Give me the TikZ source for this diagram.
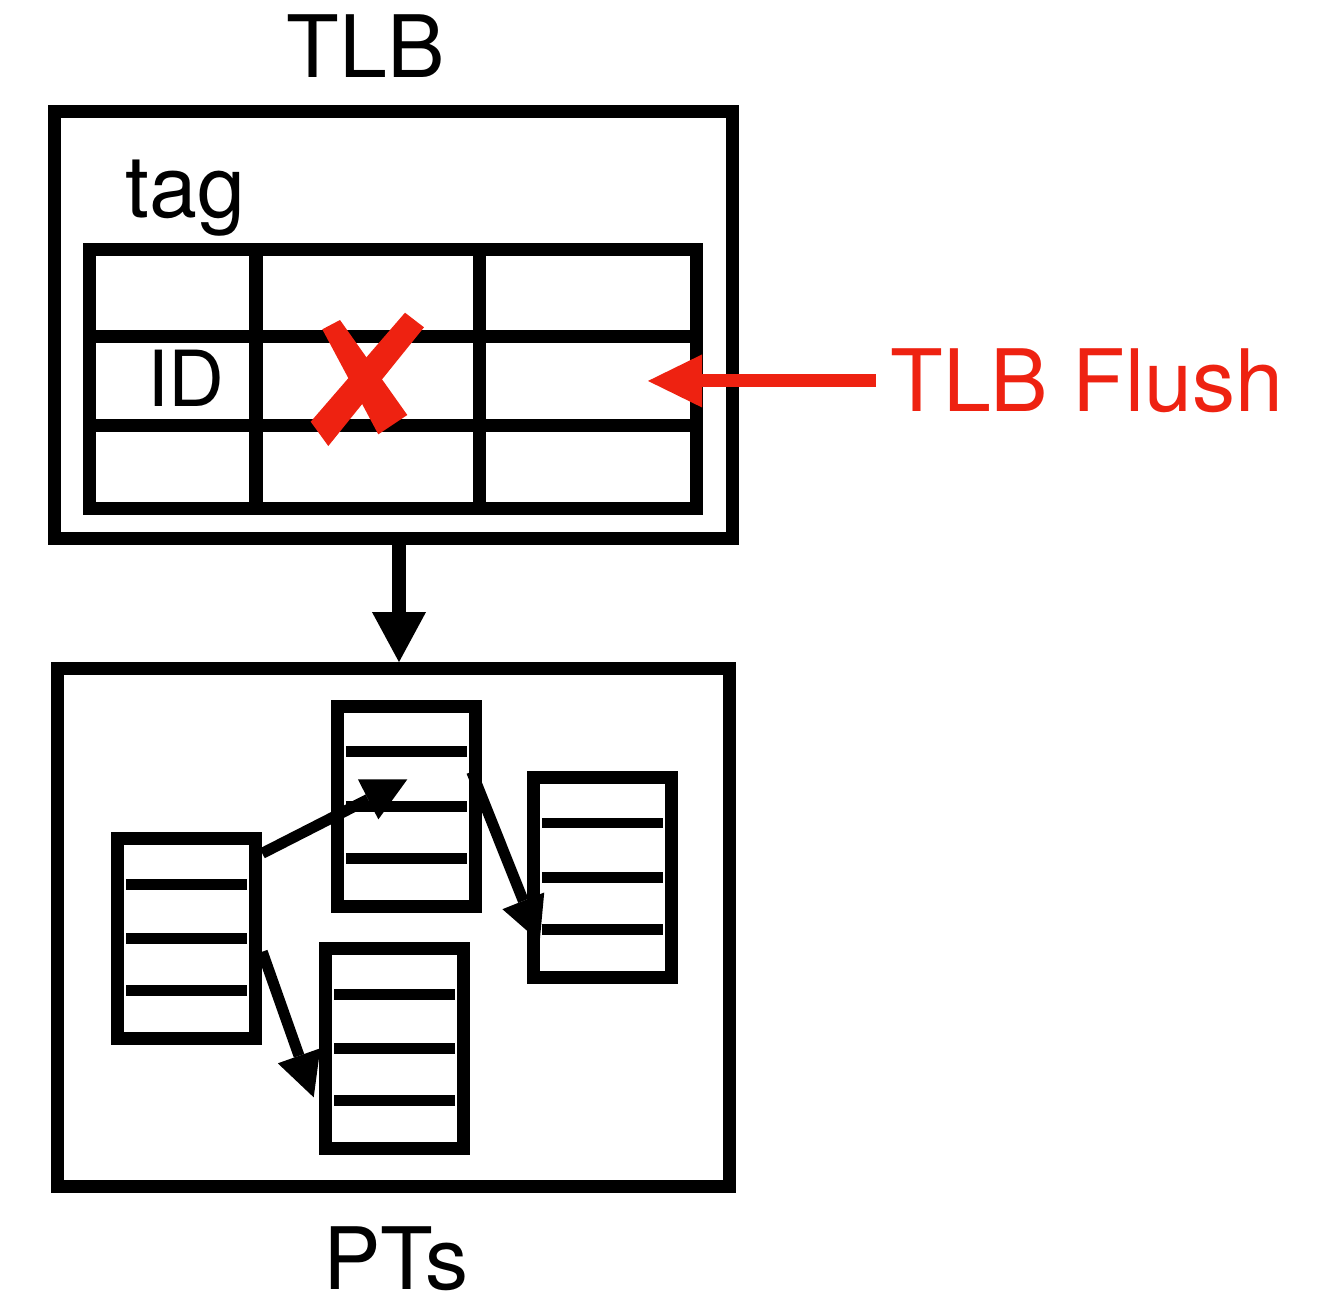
\documentclass[tikz,border=0pt]{standalone}
\usepackage{fontspec}
\setmainfont{TeX Gyre Heros}
\usepackage{tikz}
\usetikzlibrary{arrows.meta,positioning,calc}
\definecolor{flushred}{HTML}{EE2211}

\begin{document}
\begin{tikzpicture}[x=0.01cm, y=-0.01cm,
    box/.style={draw, line width=0.13cm, inner sep=0pt},
    ptpage/.style={box, minimum width=1.377cm, minimum height=2cm},
    entry/.style={line width=0.107cm},
    gridline/.style={line width=0.13cm},
    lbl/.style={anchor=base, inner sep=0pt, font=\fontsize{24.5}{29}\selectfont},
    flow/.style={line width=0.137cm, -{Triangle[length=0.5cm, width=0.54cm, line width=0pt]}},
    ptarrow/.style={line width=0.11cm, -{Triangle[length=0.44cm, width=0.45cm, line width=0pt]}},
    flushline/.style={draw=flushred, line width=0.13cm, -{Triangle[length=0.54cm, width=0.53cm, line width=0pt, fill=flushred]}}]
  \useasboundingbox (0,0) rectangle (1342,1296);

  % TLB with its tag table
  \node[box, minimum width=6.78cm, minimum height=4.265cm] (tlbbox) at (393.3,324.75) {};
  \node[box, minimum width=6.067cm, minimum height=2.585cm] (tagtable) at (393.35,378.75) {};
  \foreach \y in {336,425}
    \draw[gridline] (90,\y) -- (696.7,\y);
  \foreach \x in {256,479}
    \draw[gridline] (\x,249.5) -- (\x,508);
  \node[lbl] (tlbtitle) at (365.5,77) {TLB};
  \node[lbl] (taglbl) at (185.5,217) {tag};
  \node[lbl, font=\fontsize{22}{26}\selectfont] (idlbl) at (186,406) {ID};

  % crossed out entry
  \fill[flushred] (322.3,329.3) -- (340,320) -- (407.3,415) -- (378.3,434.3) -- cycle;
  \fill[flushred] (405,312.7) -- (424,327.3) -- (328.3,446) -- (310.7,421.7) -- cycle;

  % page tables
  \node[box, minimum width=6.71cm, minimum height=5.173cm] (ptsbox) at (393.5,927.35) {};
  \node[ptpage] (ptA) at (186.85,938.7) {};
  \node[ptpage] (ptB) at (406.35,806.3) {};
  \node[ptpage] (ptC) at (602.25,877.5) {};
  \node[ptpage] (ptD) at (394.8,1048.8) {};
  \foreach \p in {ptA,ptB,ptC,ptD}
    \foreach \dy in {-54.5,0,52}
      \draw[entry] ($(\p.center)+(-60.5,\dy)$) -- ++(121,0);
  \node[lbl] (ptslbl) at (396,1289) {PTs};

  \draw[ptarrow] ($(ptA.east)+(0,-85.4)$) -- ($(ptB.center)+(1,-27)$);
  \draw[ptarrow] ($(ptB.east)+(-10,-34.6)$) -- ($(ptC.west)+(12.8,64.2)$);
  \draw[ptarrow] ($(ptA.east)+(0,13)$) -- ($(ptD.west)+(-5.7,48.5)$);

  \draw[flow] ($(tlbbox.south)+(5.7,0)$) -- ($(ptsbox.north)+(5.5,0)$);

  % flush
  \node[lbl, text=flushred] (flush) at (1086.7,411.7) {TLB Flush};
  \path (648,0) coordinate (tipx);
  \coordinate (flushtip) at (flush.west -| tipx);
  \draw[flushline] ($(flush.west)+(-14,0)$) -- (flushtip);
\end{tikzpicture}
\end{document}
